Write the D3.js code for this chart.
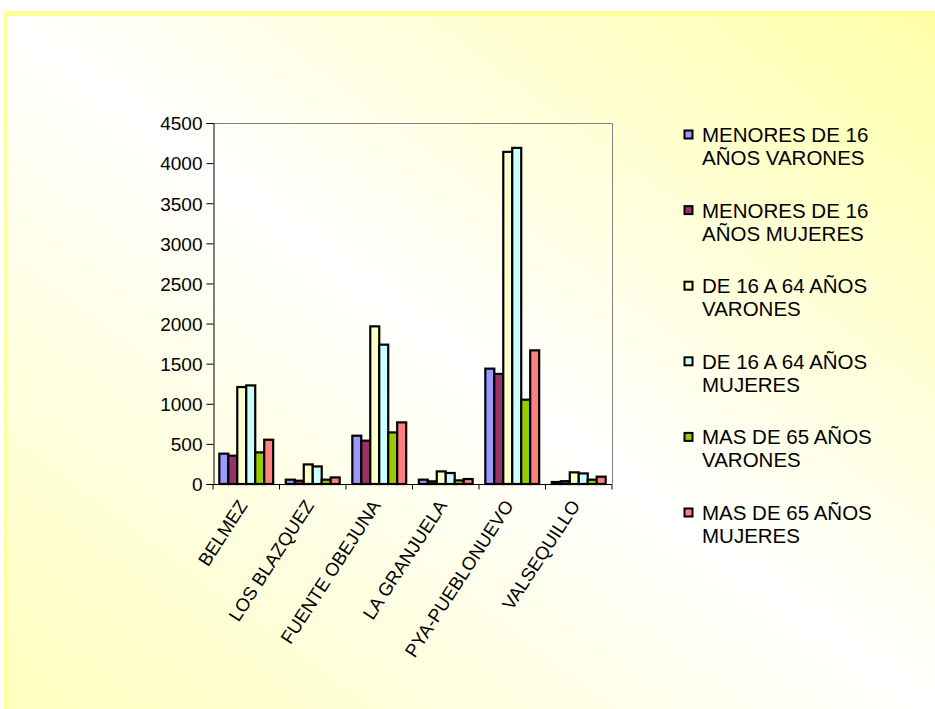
<!DOCTYPE html>
<html>
<head>
<meta charset="utf-8">
<script src="https://cdn.jsdelivr.net/npm/d3@7"></script>
<style>
  html, body { margin: 0; padding: 0; background: #fff; }
  svg { display: block; }
  text { font-family: Arial, "Liberation Sans", sans-serif; fill: #000; }
</style>
</head>
<body>
<div id="chart"></div>
<script>
// municipios
var categories = ["BELMEZ", "LOS BLAZQUEZ", "FUENTE OBEJUNA", "LA GRANJUELA", "PYA-PUEBLONUEVO", "VALSEQUILLO"];

// grupos de edad / sexo
var seriesNames = [
  ["MENORES DE 16", "AÑOS VARONES"],
  ["MENORES DE 16", "AÑOS MUJERES"],
  ["DE 16 A 64 AÑOS", "VARONES"],
  ["DE 16 A 64 AÑOS", "MUJERES"],
  ["MAS DE 65 AÑOS", "VARONES"],
  ["MAS DE 65 AÑOS", "MUJERES"]
];
var seriesColors = ["#9999FF", "#993366", "#FFFFCC", "#CCFFFF", "#99CC00", "#FF8080"];

// valores por serie (mismo orden que categories)
var menoresVarones = [378, 54, 602, 54, 1438, 25];
var menoresMujeres = [353, 41, 540, 33, 1372, 35];
var adultosVarones = [1209, 244, 1965, 157, 4140, 145];
var adultosMujeres = [1229, 219, 1737, 137, 4190, 132];
var mayoresVarones = [394, 54, 643, 45, 1051, 54];
var mayoresMujeres = [552, 82, 768, 62, 1666, 91];

var seriesValues = [menoresVarones, menoresMujeres, adultosVarones, adultosMujeres, mayoresVarones, mayoresMujeres];
var yTicks = [0, 500, 1000, 1500, 2000, 2500, 3000, 3500, 4000, 4500];

var w = 935;
var h = 709;

var svg = d3.select("#chart")
  .append("svg")
  .attr("width", w)
  .attr("height", h);

// fondo con degradado diagonal
var defs = svg.append("defs");
var grad = defs.append("linearGradient")
  .attr("id", "bg")
  .attr("x1", 0).attr("y1", 1)
  .attr("x2", 1).attr("y2", 0);
grad.append("stop").attr("offset", 0).attr("stop-color", "#FFFFBE");
grad.append("stop").attr("offset", 0.5).attr("stop-color", "#FFFFFF");
grad.append("stop").attr("offset", 1).attr("stop-color", "#FFFFA8");

svg.append("rect")
  .attr("x", 4).attr("y", 11)
  .attr("width", w - 4).attr("height", h - 11)
  .attr("fill", "#FFFF99");
svg.append("rect")
  .attr("x", 7).attr("y", 16)
  .attr("width", w - 7).attr("height", h - 16)
  .attr("fill", "url(#bg)");

// area de trazado
var plotLeft = 213, plotRight = 612, plotTop = 123, plotBottom = 484;

var x0 = d3.scaleBand()
  .domain(categories)
  .range([plotLeft, plotRight])
  .paddingInner(0.19)
  .paddingOuter(0.095);

var x1 = d3.scaleBand()
  .domain(d3.range(seriesValues.length))
  .range([0, x0.bandwidth()]);

var y = d3.scaleLinear()
  .domain([0, 4500])
  .range([plotBottom, plotTop]);

// borde superior y derecho
svg.append("path")
  .attr("d", "M" + plotLeft + "," + (plotTop + 0.5) + "H" + (plotRight + 0.5) + "V" + plotBottom)
  .attr("fill", "none")
  .attr("stroke", "#808080")
  .attr("stroke-width", 1);

// barras
var groups = svg.selectAll("g.grp")
  .data(categories)
  .enter()
  .append("g")
  .attr("class", "grp")
  .attr("transform", function(d) { return "translate(" + x0(d) + ",0)"; });

groups.selectAll("rect")
  .data(function(d, i) {
    return seriesValues.map(function(s, j) { return {s: j, v: s[i]}; });
  })
  .enter()
  .append("rect")
  .attr("x", function(d) { return x1(d.s); })
  .attr("width", x1.bandwidth())
  .attr("y", function(d) { return y(d.v); })
  .attr("height", function(d) { return y(0) - y(d.v); })
  .attr("fill", function(d) { return seriesColors[d.s]; })
  .attr("stroke", "#000")
  .attr("stroke-width", 2.2);

// eje Y
var yAxis = svg.append("g")
  .attr("transform", "translate(" + (plotLeft + 0.5) + ",0)")
  .call(d3.axisLeft(y).tickValues(yTicks).tickFormat(d3.format("d")).tickSize(7).tickPadding(4));
yAxis.select(".domain").attr("stroke", "#000");
yAxis.selectAll(".tick line").attr("stroke", "#000");
yAxis.selectAll("text")
  .style("font-size", "19px")
  .attr("dy", "0.36em");

// eje X
var xAxis = svg.append("g")
  .attr("transform", "translate(0," + (plotBottom + 0.5) + ")");
xAxis.append("line")
  .attr("x1", plotLeft).attr("x2", plotRight)
  .attr("stroke", "#000");
xAxis.selectAll("line.tk")
  .data(d3.range(categories.length + 1))
  .enter()
  .append("line")
  .attr("class", "tk")
  .attr("x1", function(i) { return plotLeft + i * x0.step(); })
  .attr("x2", function(i) { return plotLeft + i * x0.step(); })
  .attr("y1", 0).attr("y2", 5)
  .attr("stroke", "#000");

xAxis.selectAll("text")
  .data(categories)
  .enter()
  .append("text")
  .attr("text-anchor", "end")
  .attr("transform", function(d) {
    return "translate(" + (x0(d) + x0.bandwidth() / 2 + 2) + ",21) rotate(-57)";
  })
  .style("font-size", "18.5px")
  .text(function(d) { return d; });

// leyenda
var legend = svg.append("g")
  .attr("transform", "translate(684,0)");

var items = legend.selectAll("g")
  .data(seriesNames)
  .enter()
  .append("g")
  .attr("transform", function(d, i) { return "translate(0," + (142 + i * 75.6) + ")"; });

items.append("rect")
  .attr("x", 0.5).attr("y", -11.5)
  .attr("width", 8).attr("height", 8)
  .attr("fill", function(d, i) { return seriesColors[i]; })
  .attr("stroke", "#000")
  .attr("stroke-width", 2);

items.append("text")
  .attr("x", 18)
  .style("font-size", "20.5px")
  .text(function(d) { return d[0]; });

items.append("text")
  .attr("x", 18)
  .attr("y", 23)
  .style("font-size", "20.5px")
  .text(function(d) { return d[1]; });
</script>
</body>
</html>
